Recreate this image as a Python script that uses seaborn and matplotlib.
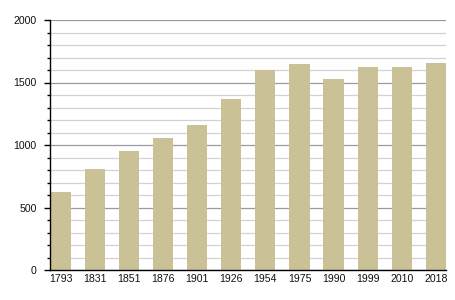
import matplotlib
matplotlib.use("Agg")
import matplotlib.pyplot as plt
import seaborn as sns
import pandas as pd
from matplotlib.ticker import MultipleLocator

years = ["1793", "1831", "1851", "1876", "1901", "1926", "1954", "1975", "1990", "1999", "2010", "2018"]
population = [626, 808, 955, 1057, 1160, 1368, 1600, 1648, 1528, 1624, 1624, 1656]

df = pd.DataFrame({"year": years, "population": population})

sns.set_style("white")
plt.rcParams["font.family"] = ["Liberation Sans", "DejaVu Sans"]

fig = plt.figure(figsize=(4.55, 3.0), dpi=100)
ax = fig.add_axes([50 / 455, 30 / 300, 396 / 455, 250 / 300])

sns.barplot(data=df, x="year", y="population", color="#cbc197", saturation=1,
            width=0.59, ax=ax, zorder=3, linewidth=0)

ax.set_xlim(-0.32, 11.3)
ax.set_ylim(0, 2000)
ax.yaxis.set_major_locator(MultipleLocator(500))
ax.yaxis.set_minor_locator(MultipleLocator(100))
ax.grid(axis="y", which="major", color="#9a9a9a", linewidth=0.9, zorder=0)
ax.grid(axis="y", which="minor", color="#d2d2d2", linewidth=0.9, zorder=0)
ax.set_axisbelow(True)

for s in ["top", "right"]:
    ax.spines[s].set_visible(False)
for s in ["left", "bottom"]:
    ax.spines[s].set_visible(True)
    ax.spines[s].set_color("black")
    ax.spines[s].set_linewidth(1.0)
    ax.spines[s].set_zorder(4)

ax.tick_params(axis="y", which="major", direction="out", length=4, width=1, color="black",
               left=True, labelsize=7.6, pad=5.5, labelcolor="#111111")
ax.tick_params(axis="y", which="minor", direction="out", length=2.2, width=1, color="black", left=True)
ax.tick_params(axis="x", which="both", length=0, labelsize=7.6, pad=3, labelcolor="#111111")

ax.set_xlabel("")
ax.set_ylabel("")

fig.savefig("out.png", dpi=100, facecolor="white")
